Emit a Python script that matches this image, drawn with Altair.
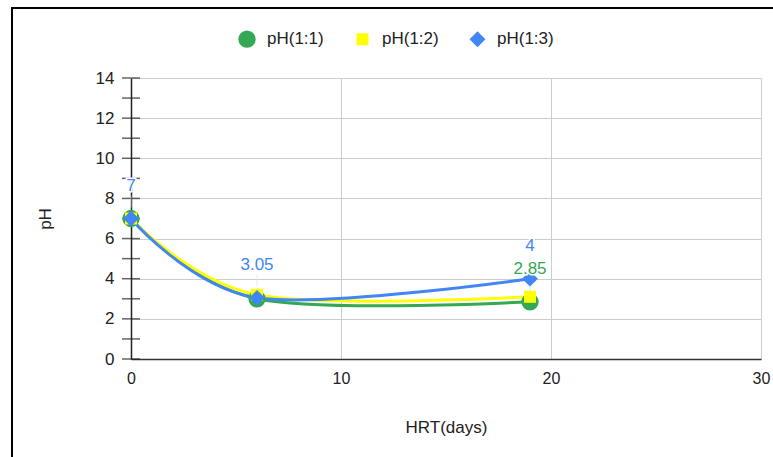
import altair as alt
import pandas as pd

hrt = [0, 6, 19]
series_names = ["pH(1:1)", "pH(1:2)", "pH(1:3)"]
ph11 = [7, 3.0, 2.85]
ph12 = [7, 3.2, 3.1]
ph13 = [7, 3.05, 4.0]
colors = ["#34a853", "#ffff00", "#4285f4"]
shapes = ["circle", "square", "diamond"]
sizes = [300, 144, 250]

# data labels
lab_x = [0, 6, 19, 19]
lab_y = [7, 3.05, 4.0, 2.85]
lab_txt = ["7", "3.05", "4", "2.85"]
lab_series = ["pH(1:3)", "pH(1:3)", "pH(1:3)", "pH(1:1)"]

y_ticks = list(range(0, 15))
x_ticks = [0, 10, 20, 30]

rows = []
for k, (name, vals) in enumerate(zip(series_names, [ph11, ph12, ph13])):
    for x, y in zip(hrt, vals):
        rows.append({"HRT": x, "pH": y, "series": name, "order": k})
df = pd.DataFrame(rows)
labels = pd.DataFrame({"HRT": lab_x, "pH": lab_y, "txt": lab_txt, "series": lab_series})
ticks_df = pd.DataFrame({"v": y_ticks})

FONT = "Liberation Sans"
TXT = "#222222"

xscale = alt.Scale(domain=[0, 30], nice=False)
yscale = alt.Scale(domain=[0, 14], nice=False)
cscale = alt.Scale(domain=series_names, range=colors)
sscale = alt.Scale(domain=series_names, range=shapes)
zscale = alt.Scale(type="ordinal", domain=series_names, range=sizes)

xenc = alt.X("HRT:Q", scale=xscale, title="HRT(days)",
             axis=alt.Axis(values=x_ticks, grid=True, gridColor="#cccccc", ticks=False,
                           domainColor="#333333", domainWidth=1.5, labelFontSize=16,
                           labelPadding=11, titleFontSize=17, titlePadding=33,
                           titleFontWeight="normal", labelColor=TXT, titleColor=TXT,
                           labelFont=FONT, titleFont=FONT, labelFlush=False))
yenc = alt.Y("pH:Q", scale=yscale, title="pH",
             axis=alt.Axis(values=y_ticks, grid=True, gridColor="#cccccc", ticks=False,
                           domainColor="#222222", domainWidth=1.5, labelFontSize=17,
                           labelPadding=17, titleFontSize=17, titlePadding=41,
                           titleFontWeight="normal", labelColor=TXT, titleColor=TXT,
                           labelFont=FONT, titleFont=FONT,
                           labelExpr="datum.value % 2 == 0 ? datum.label : ''"))

legend = alt.Legend(title=None, orient="none", direction="horizontal",
                    legendX=107, legendY=-48, labelFontSize=17,
                    labelFont=FONT, labelColor=TXT, symbolStrokeWidth=0,
                    columnPadding=30, labelOffset=11)

layers = []

border = alt.Chart(pd.DataFrame({"a": [0]})).mark_rect(
    fill=None, stroke="black", strokeWidth=2
).encode(x=alt.value(-119), x2=alt.value(800), y=alt.value(-70), y2=alt.value(500))
layers.append(border)

ytick_marks = alt.Chart(ticks_df).mark_tick(orient="horizontal", size=18, thickness=1.5,
                                            color="#222222").encode(
    x=alt.value(0), y=alt.Y("v:Q", scale=yscale)
)
layers.append(ytick_marks)

leaders = alt.Chart(labels).mark_tick(orient="vertical", size=12, thickness=1,
                                      color="#e4e4e4", yOffset=-17).encode(
    x=alt.X("HRT:Q", scale=xscale), y=alt.Y("pH:Q", scale=yscale)
)
layers.append(leaders)

for name, col in zip(series_names, colors):
    layers.append(
        alt.Chart(df).transform_filter(alt.datum.series == name)
        .mark_line(interpolate="cardinal", strokeWidth=3, color=col)
        .encode(x=xenc, y=yenc)
    )

points = alt.Chart(df).mark_point(filled=True, opacity=1, strokeWidth=0).encode(
    x=alt.X("HRT:Q", scale=xscale), y=alt.Y("pH:Q", scale=yscale),
    color=alt.Color("series:N", scale=cscale, legend=legend),
    shape=alt.Shape("series:N", scale=sscale, legend=legend),
    size=alt.Size("series:N", scale=zscale, legend=legend),
    order="order:Q",
)
layers.append(points)

# white halo behind the data labels
layers.append(
    alt.Chart(labels).mark_text(dy=-33, fontSize=17, font=FONT, color="white",
                                stroke="white", strokeWidth=3)
    .encode(x=alt.X("HRT:Q", scale=xscale), y=alt.Y("pH:Q", scale=yscale), text="txt:N")
)
for name, col in zip(series_names, colors):
    if name in lab_series:
        layers.append(
            alt.Chart(labels).transform_filter(alt.datum.series == name)
            .mark_text(dy=-33, fontSize=17, font=FONT, color=col)
            .encode(x=alt.X("HRT:Q", scale=xscale), y=alt.Y("pH:Q", scale=yscale),
                    text="txt:N")
        )

chart = alt.layer(*layers).properties(
    width=630, height=281,
    autosize=alt.AutoSizeParams(type="none"),
    padding={"left": 131, "top": 78, "right": 12, "bottom": 98},
    background="white",
).configure_view(stroke=None)

chart.save("out.html", embed_options={"renderer": "svg", "actions": False})
